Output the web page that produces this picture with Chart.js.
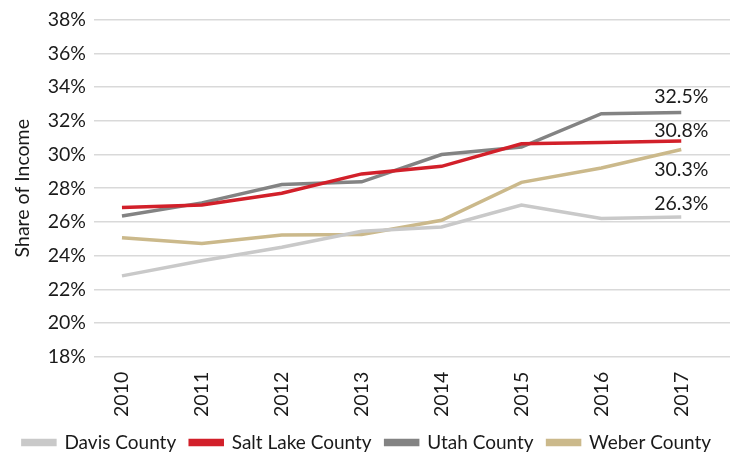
<!DOCTYPE html>
<html>
<head>
<meta charset="utf-8">
<script src="https://cdn.jsdelivr.net/npm/chart.js@4.4.0/dist/chart.umd.min.js"></script>
<style>
html,body{margin:0;padding:0;background:#fff;}
#wrap{width:739px;height:458px;position:relative;}
</style>
</head>
<body>
<div id="wrap"><canvas id="c" width="739" height="458"></canvas></div>
<script>
const years = [2010, 2011, 2012, 2013, 2014, 2015, 2016, 2017];
const seriesNames = ['Davis County', 'Salt Lake County', 'Utah County', 'Weber County'];
const davis    = [22.8, 23.7, 24.5, 25.45, 25.7, 27.0, 26.2, 26.3];
const saltLake = [26.85, 27.0, 27.7, 28.85, 29.3, 30.64, 30.72, 30.8];
const utah     = [26.35, 27.13, 28.22, 28.38, 30.0, 30.44, 32.42, 32.5];
const weber    = [25.06, 24.72, 25.22, 25.25, 26.1, 28.35, 29.2, 30.3];
const yTicks   = [18, 20, 22, 24, 26, 28, 30, 32, 34, 36, 38];
const endLabels = ['26.3%', '30.8%', '32.5%', '30.3%'];
const colors = ['#c9c9c9', '#d2202a', '#838383', '#cbb98b'];

const FONT = 'Lato';
const FS = 19.5;
const allSeries = [davis, saltLake, utah, weber];

const endLabelPlugin = {
  id: 'endLabels',
  afterDatasetsDraw(chart) {
    const ctx = chart.ctx;
    ctx.save();
    ctx.font = FS + 'px ' + FONT;
    ctx.fillStyle = '#1a1a1a';
    ctx.textAlign = 'center';
    ctx.textBaseline = 'middle';
    const offsets = [-13, -10, -16, 20];
    chart.data.datasets.forEach((ds, i) => {
      const meta = chart.getDatasetMeta(i);
      const pt = meta.data[meta.data.length - 1];
      ctx.fillText(endLabels[i], pt.x, pt.y + offsets[i]);
    });
    ctx.restore();
  }
};

new Chart(document.getElementById('c'), {
  type: 'line',
  data: {
    datasets: allSeries.map((vals, i) => ({
      label: seriesNames[i],
      data: years.map((yr, j) => ({x: yr, y: vals[j]})),
      borderColor: colors[i],
      backgroundColor: colors[i],
      borderWidth: 3.5,
      pointRadius: 0,
      tension: 0,
      fill: false
    }))
  },
  options: {
    responsive: false,
    animation: false,
    devicePixelRatio: 1,
    layout: {padding: {top: 11, right: 9, bottom: -4, left: 4}},
    plugins: {
      legend: {
        position: 'bottom',
        labels: {
          font: {family: FONT, size: 19, lineHeight: 1},
          color: '#1a1a1a',
          boxWidth: 32,
          boxHeight: 4,
          padding: 14
        }
      },
      tooltip: {enabled: false}
    },
    scales: {
      x: {
        type: 'linear',
        min: 2009.65,
        max: 2017.61,
        afterBuildTicks(scale) { scale.ticks = years.map(v => ({value: v})); },
        afterFit(scale) { scale.height = scale.height - 5; },
        grid: {display: false},
        border: {display: false},
        ticks: {
          minRotation: 90, maxRotation: 90,
          font: {family: FONT, size: FS},
          color: '#1a1a1a',
          padding: 7,
          callback: v => String(v)
        }
      },
      y: {
        min: 18, max: 38,
        afterBuildTicks(scale) { scale.ticks = yTicks.map(v => ({value: v})); },
        afterFit(scale) { scale.width = 90; },
        grid: {color: '#d9d9d9', lineWidth: 1.5, drawTicks: false},
        border: {display: false},
        ticks: {
          font: {family: FONT, size: FS},
          color: '#1a1a1a',
          padding: 8,
          callback: v => v + '%'
        },
        title: {
          display: true,
          text: 'Share of Income',
          font: {family: FONT, size: FS},
          color: '#1a1a1a',
          padding: {top: 7, bottom: 0}
        }
      }
    }
  },
  plugins: [endLabelPlugin]
});
</script>
</body>
</html>
